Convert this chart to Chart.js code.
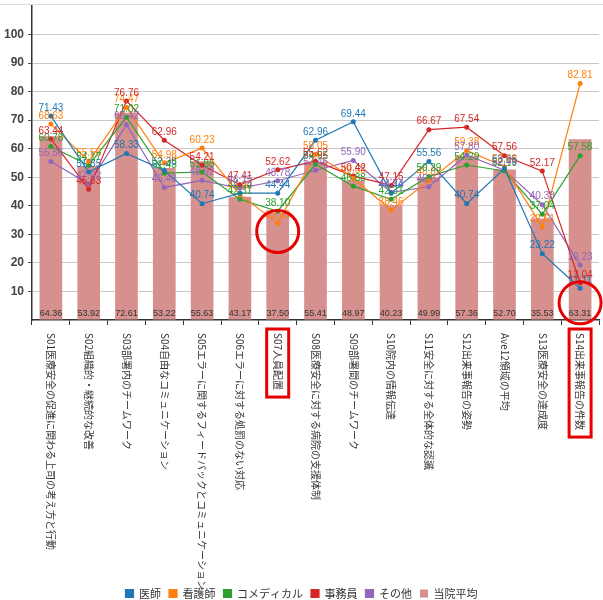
<!DOCTYPE html>
<html lang="ja">
<head>
  <meta charset="UTF-8">
  <title>職種別スコア</title>
  <style>
    body {
      margin: 0;
      background: #fff;
      overflow: hidden;
    }
    .wrap {
      margin-top: 4px;
      border-top: 1px solid #dcdcdc;
      width: 603px;
      height: 607px;
      position: relative;
    }
    #scoreChart {
      position: relative;
      top: -3px;
    }
  </style>
</head>
<body>

<div class="wrap">
  <canvas id="scoreChart"></canvas>
</div>

<script src="https://cdn.jsdelivr.net/npm/chart.js"></script>
<script>
  // categories and series
  const categories = [
    'S01医療安全の促進に関わる上司の考え方と行動',
    'S02組織的・継続的な改善',
    'S03部署内のチームワーク',
    'S04自由なコミュニケーション',
    'S05エラーに関するフィードバックとコミュニケーション',
    'S06エラーに対する処罰のない対応',
    'S07人員配置',
    'S08医療安全に対する病院の支援体制',
    'S09部署間のチームワーク',
    'S10院内の情報伝達',
    'S11安全に対する全体的な認識',
    'S12出来事報告の姿勢',
    'Ave12領域の平均',
    'S13医療安全の達成度',
    'S14出来事報告の件数'
  ];
  const doctor      = [71.43, 51.85, 58.33, 52.38, 40.74, 44.44, 44.44, 62.96, 69.44, 44.44, 55.56, 40.74, 53.05, 23.22, 11.11];
  const nurse       = [68.63, 55.56, 74.47, 54.98, 60.23, 43.90, 33.93, 58.05, 49.63, 38.46, 48.82, 59.38, 53.68, 32.61, 82.81];
  const comedical   = [60.78, 54.17, 71.02, 51.43, 51.85, 42.31, 38.10, 54.55, 46.88, 42.31, 50.29, 54.29, 52.19, 37.04, 57.58];
  const clerk       = [63.44, 45.83, 76.76, 62.96, 54.21, 47.41, 52.62, 55.62, 50.42, 47.15, 66.67, 67.54, 57.56, 52.17, 13.04];
  const other       = [55.56, 47.62, 68.42, 46.43, 48.92, 46.15, 48.78, 52.46, 55.90, 44.74, 46.67, 57.80, 52.49, 40.38, 19.23];
  const hospitalAvg = [64.36, 53.92, 72.61, 53.22, 55.63, 43.17, 37.50, 55.41, 48.97, 40.23, 49.99, 57.36, 52.70, 35.53, 63.31];

  // red marks drawn over the picture
  const circledIndex = [6, 14];
  const circledValue = [31, 6];
  const boxedIndex = [6, 14];

  const numFont = "'Liberation Sans', Arial, sans-serif";
  const jpFont = "'Noto Sans CJK JP', sans-serif";

  function lineSet(label, data, color) {
    return {
      type: 'line',
      label: label,
      data: data,
      borderColor: color,
      backgroundColor: color,
      borderWidth: 1.2,
      pointRadius: 2.5,
      pointBackgroundColor: color,
      pointBorderWidth: 0,
      tension: 0
    };
  }

  // value labels above points, bar values at the bottom of the bars
  const valueLabels = {
    id: 'valueLabels',
    afterDatasetsDraw(chart) {
      const ctx = chart.ctx;
      ctx.save();
      ctx.textAlign = 'center';
      chart.data.datasets.forEach((ds, di) => {
        const meta = chart.getDatasetMeta(di);
        meta.data.forEach((el, i) => {
          const txt = ds.data[i].toFixed(2);
          if (ds.type === 'line') {
            ctx.font = '10px ' + numFont;
            ctx.fillStyle = ds.borderColor;
            ctx.textBaseline = 'bottom';
            ctx.fillText(txt, el.x, el.y - 3);
          } else {
            ctx.font = '9px ' + numFont;
            ctx.fillStyle = '#333';
            ctx.textBaseline = 'bottom';
            ctx.fillText(txt, el.x, chart.chartArea.bottom - 2);
          }
        });
      });
      ctx.restore();
    }
  };

  // category names written top to bottom under the axis
  const verticalLabels = {
    id: 'verticalLabels',
    afterDraw(chart) {
      const ctx = chart.ctx;
      const xs = chart.scales.x;
      ctx.save();
      ctx.font = '10px ' + jpFont;
      ctx.fillStyle = '#333';
      ctx.textAlign = 'left';
      ctx.textBaseline = 'middle';
      categories.forEach((name, i) => {
        const x = xs.getPixelForValue(i);
        ctx.save();
        ctx.translate(x, xs.top + 13);
        ctx.rotate(Math.PI / 2);
        ctx.fillText(name, 0, 0);
        ctx.restore();
      });
      // red boxes round some names
      ctx.strokeStyle = '#e60000';
      ctx.lineWidth = 3;
      boxedIndex.forEach(i => {
        const x = xs.getPixelForValue(i);
        const w = ctx.measureText(categories[i]).width;
        ctx.strokeRect(x - 11, xs.top + 9, 22, w + 11);
      });
      // red circles
      const ys = chart.scales.y;
      circledIndex.forEach((i, k) => {
        ctx.beginPath();
        ctx.arc(xs.getPixelForValue(i), ys.getPixelForValue(circledValue[k]), 21, 0, Math.PI * 2);
        ctx.stroke();
      });
      ctx.restore();
    }
  };

  new Chart(document.getElementById('scoreChart'), {
    type: 'bar',
    data: {
      labels: categories,
      datasets: [
        lineSet('医師', doctor, '#1f77b4'),
        lineSet('看護師', nurse, '#ff7f0e'),
        lineSet('コメディカル', comedical, '#2ca02c'),
        lineSet('事務員', clerk, '#d62728'),
        lineSet('その他', other, '#9467bd'),
        {
          type: 'bar',
          label: '当院平均',
          data: hospitalAvg,
          backgroundColor: '#d6908e',
          categoryPercentage: 1,
          barPercentage: 0.6
        }
      ]
    },
    options: {
      responsive: true,
      maintainAspectRatio: false,
      animation: false,
      layout: { padding: 0 },
      plugins: {
        tooltip: { enabled: false },
        legend: {
          position: 'bottom',
          labels: {
            boxWidth: 8,
            boxHeight: 8,
            padding: 8,
            color: '#333',
            font: { family: jpFont, size: 11 }
          }
        }
      },
      scales: {
        x: {
          offset: true,
          afterFit: s => { s.height = 260; s.paddingLeft = 0; s.paddingRight = 0; },
          ticks: { display: false },
          border: { color: '#333', width: 1.5 },
          grid: {
            offset: true,
            drawOnChartArea: false,
            tickLength: 5,
            tickColor: '#333'
          }
        },
        y: {
          min: 0,
          max: 110,
          afterFit: s => { s.width = 32; s.paddingTop = 0; s.paddingBottom = 0; },
          ticks: {
            stepSize: 10,
            padding: 4,
            color: '#444',
            font: { family: numFont, size: 12, weight: 'bold' },
            callback: v => (v === 0 || v === 110) ? '' : v
          },
          border: { color: '#333', width: 1.5 },
          grid: {
            color: c => (c.tick.value === 0 || c.tick.value === 110) ? 'rgba(0,0,0,0)' : '#c8c8c8',
            tickColor: c => (c.tick.value === 0 || c.tick.value === 110) ? 'rgba(0,0,0,0)' : '#555',
            borderDash: [3, 3],
            tickBorderDash: [],
            tickLength: 4
          }
        }
      }
    },
    plugins: [valueLabels, verticalLabels]
  });
</script>

</body>
</html>
